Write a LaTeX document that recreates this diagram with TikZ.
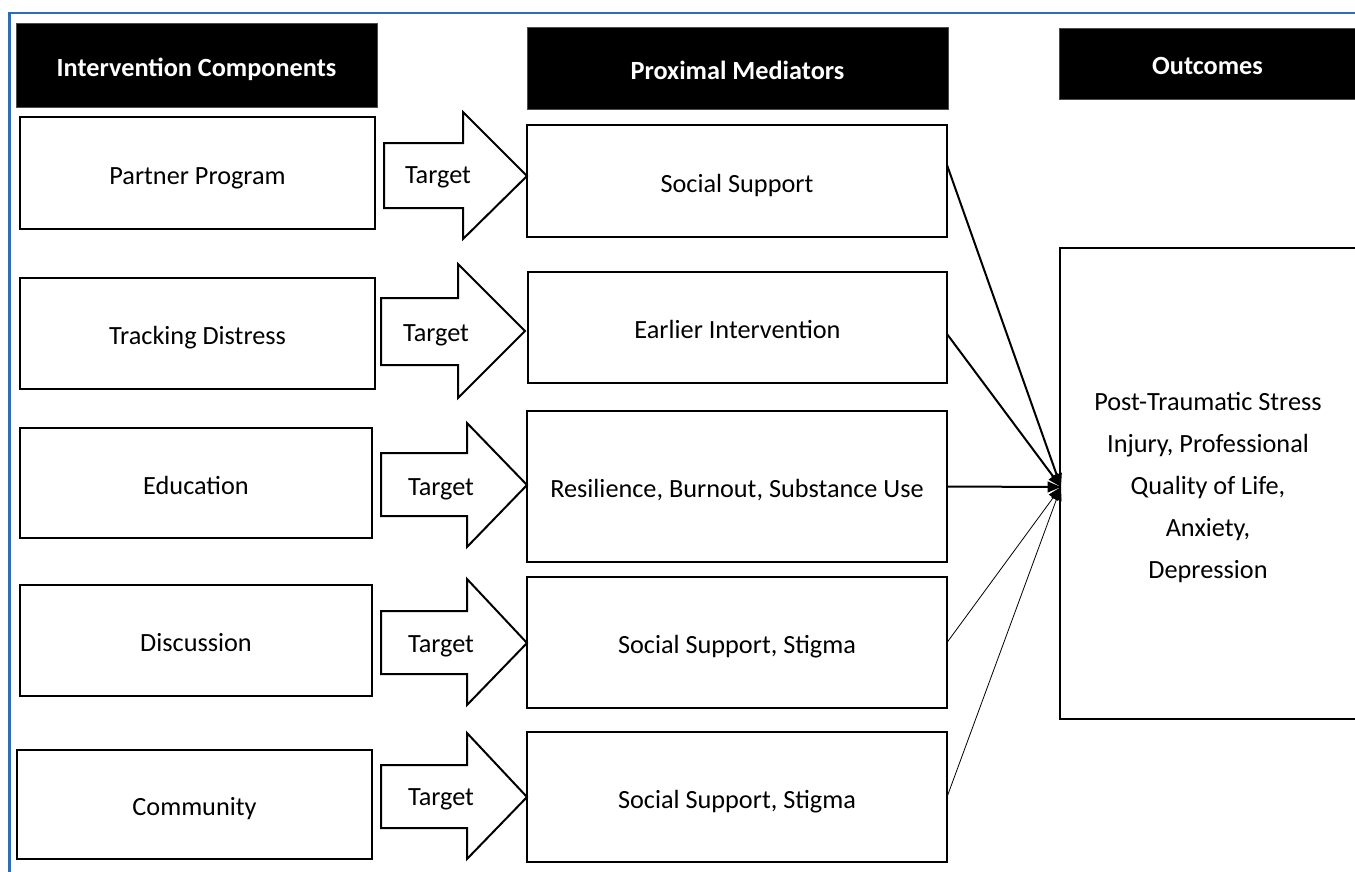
\documentclass[tikz,border=0pt]{standalone}
\usepackage{fontspec}
\setmainfont{Carlito}
\usetikzlibrary{arrows.meta,calc}
\definecolor{framebl}{HTML}{2E6DB4}
\begin{document}
\begin{tikzpicture}[x=0.75pt,y=-0.75pt,
  every node/.style={inner sep=0pt, outer sep=0pt},
  bodyfont/.style={font=\fontsize{19.7}{31.5}\selectfont},
  oneline/.style={text height=20pt, text depth=2.8pt},
  hdr/.style={fill=black, draw=black!70, line width=0.6pt, text=white, oneline,
    font=\fontsize{19.7}{24}\selectfont\bfseries},
  box/.style={draw=black, line width=1.5pt, fill=white, bodyfont, align=center},
  sbox/.style={box, oneline},
  tarrow/.style={draw=black, line width=1.5pt, fill=white, line join=miter},
  tlabel/.style={bodyfont, text height=16.7pt, text depth=4pt},
  conn/.style={draw=black, line width=1.5pt, -{Triangle[length=10pt,width=8pt]}},
  connthin/.style={draw=black, line width=0.6pt, -{Triangle[length=10pt,width=8pt]}}
]
\useasboundingbox (0,0) rectangle (1355,871);
\begin{scope}
\clip (0,0) rectangle (1355,871);
% frame
\draw[framebl, line width=1.6pt] (9.5,880) -- (9.5,12.7) -- (1365,12.7);

% headers
\node[hdr, minimum width=361*0.75pt, minimum height=84*0.75pt] (h1) at (196.5,65) {Intervention Components};
\node[hdr, minimum width=421*0.75pt, minimum height=82*0.75pt] (h2) at (737.5,68) {Proximal Mediators};
\node[hdr, minimum width=297*0.75pt, minimum height=71*0.75pt] (h3) at (1207.5,63.5) {Outcomes};

% left column
\node[sbox, minimum width=355*0.75pt, minimum height=112*0.75pt] (l1) at (197.5,173) {Partner Program};
\node[sbox, minimum width=355*0.75pt, minimum height=111*0.75pt] (l2) at (197.5,333.5) {Tracking Distress};
\node[sbox, minimum width=352*0.75pt, minimum height=110*0.75pt] (l3) at (196,483) {Education};
\node[sbox, minimum width=352*0.75pt, minimum height=111*0.75pt] (l4) at (196,640.5) {Discussion};
\node[sbox, minimum width=355*0.75pt, minimum height=109*0.75pt] (l5) at (194.5,804.5) {Community};

% middle column
\node[sbox, minimum width=420*0.75pt, minimum height=112*0.75pt] (m1) at (737,181) {Social Support};
\node[sbox, minimum width=419*0.75pt, minimum height=111*0.75pt] (m2) at (737.5,327.5) {Earlier Intervention};
\node[sbox, minimum width=420*0.75pt, minimum height=151*0.75pt] (m3) at (737,486.5) {Resilience, Burnout, Substance Use};
\node[sbox, minimum width=420*0.75pt, minimum height=131*0.75pt] (m4) at (737,642.5) {Social Support, Stigma};
\node[sbox, minimum width=420*0.75pt, minimum height=130*0.75pt] (m5) at (737,797) {Social Support, Stigma};

% outcomes
\node[box, minimum width=297*0.75pt, minimum height=471*0.75pt] (o) at (1208.5,483.5) {};
\node[bodyfont, align=center] (otext) at (1208,487.5)
  {Post-Traumatic Stress\\Injury, Professional\\Quality of Life,\\Anxiety,\\Depression};

% target arrows
\draw[tarrow] (384,143) -- (463,143) -- (463,112) -- (527,176) -- (463,239) -- (463,208) -- (384,208) -- cycle;
\node[tlabel] (t1) at (438,175) {Target};
\draw[tarrow] (381,298) -- (458,298) -- (458,264) -- (525,331) -- (458,398) -- (458,365) -- (381,365) -- cycle;
\node[tlabel] (t2) at (436,333) {Target};
\draw[tarrow] (381,453) -- (467,453) -- (467,423) -- (527,485) -- (467,547) -- (467,516) -- (381,516) -- cycle;
\node[tlabel] (t3) at (441,487) {Target};
\draw[tarrow] (381,611) -- (467,611) -- (467,579) -- (527,643) -- (467,705) -- (467,674) -- (381,674) -- cycle;
\node[tlabel] (t4) at (441,644) {Target};
\draw[tarrow] (381,765) -- (467,765) -- (467,733) -- (527,797) -- (467,859) -- (467,828) -- (381,828) -- cycle;
\node[tlabel] (t5) at (441,797) {Target};

% connectors
\coordinate (conv) at (1061,487);
\draw[conn] ([yshift=12pt]m1.east) -- (conv);
\draw[conn] ([yshift=-4.9pt]m2.east) -- (conv);
\draw[conn] (m3.east) -- (conv);
\draw[connthin] (m4.east) -- (conv);
\draw[connthin] (m5.east) -- (conv);
\end{scope}
\end{tikzpicture}
\end{document}
